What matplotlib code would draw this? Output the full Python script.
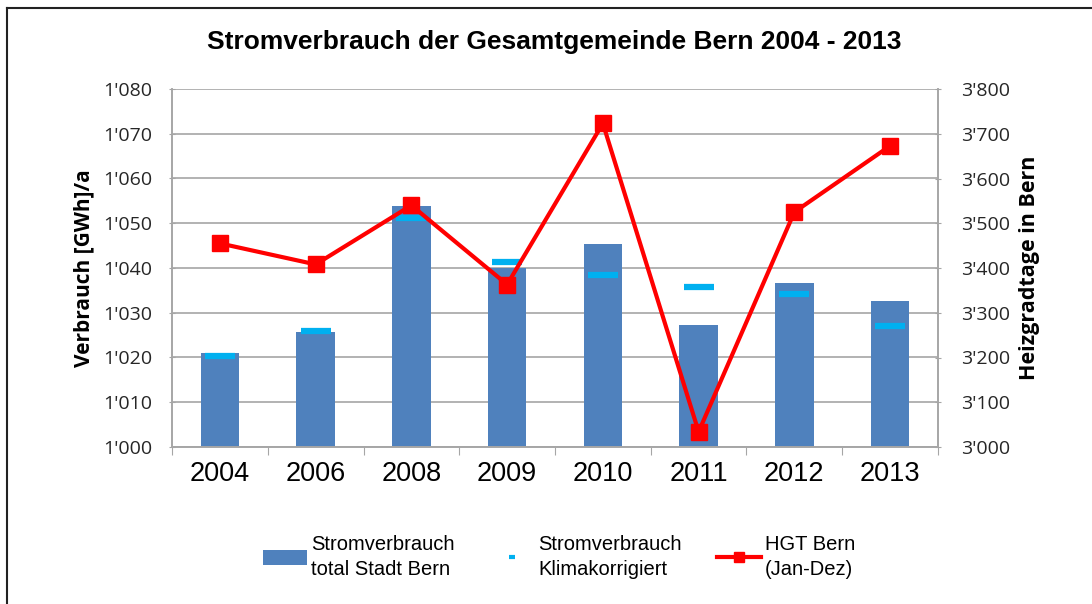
import matplotlib
matplotlib.use('Agg')
import matplotlib.pyplot as plt
from matplotlib.lines import Line2D
from matplotlib.patches import Patch
import numpy as np

# Daten
jahre = ['2004', '2006', '2008', '2009', '2010', '2011', '2012', '2013']
strom_total = [1021.0, 1025.6, 1053.9, 1040.0, 1045.3, 1027.3, 1036.7, 1032.6]
strom_klima = [1020.3, 1026.0, 1051.2, 1041.3, 1038.4, 1035.8, 1034.2, 1027.0]
hgt_bern = [3455, 3408, 3540, 3363, 3723, 3034, 3525, 3673]

links_ticks = [1000, 1010, 1020, 1030, 1040, 1050, 1060, 1070, 1080]
links_labels = ["1'000", "1'010", "1'020", "1'030", "1'040", "1'050", "1'060", "1'070", "1'080"]
rechts_ticks = [3000, 3100, 3200, 3300, 3400, 3500, 3600, 3700, 3800]
rechts_labels = ["3'000", "3'100", "3'200", "3'300", "3'400", "3'500", "3'600", "3'700", "3'800"]

blau = '#4F81BD'
hellblau = '#00B0F0'
rot = '#FF0000'
grau = '#A6A6A6'

fig = plt.figure(figsize=(10.92, 6.04), dpi=100)
ax = fig.add_axes([172 / 1092, 1 - 447 / 604, (938 - 172) / 1092, (447 - 89) / 604])
ax2 = ax.twinx()

x = np.arange(len(jahre))

# Balken und klimakorrigierte Werte
ax.bar(x, np.array(strom_total) - 1000, bottom=1000, width=0.4, color=blau, zorder=2)
ax.plot(x, strom_klima, linestyle='none', marker='_', markersize=21,
        markeredgewidth=4.5, color=hellblau, zorder=3)

# Heizgradtage
ax2.plot(x, hgt_bern, color=rot, lw=3, marker='s', markersize=12, zorder=4)

ax.set_xlim(-0.5, len(jahre) - 0.5)
ax.set_ylim(1000, 1080)
ax2.set_ylim(3000, 3800)

ax.set_yticks(links_ticks)
ax.set_yticklabels(links_labels, fontfamily='Open Sans', fontsize=14, color='#262626')
ax2.set_yticks(rechts_ticks)
ax2.set_yticklabels(rechts_labels, fontfamily='Open Sans', fontsize=14, color='#262626')

# Kategorie-Achse: Striche zwischen den Jahren
ax.set_xticks(np.arange(len(jahre) + 1) - 0.5)
ax.set_xticklabels([])
ax.set_xticks(x, minor=True)
ax.set_xticklabels(jahre, minor=True, fontfamily='Liberation Sans', fontsize=19.5)
ax.tick_params(axis='x', which='major', length=6, color=grau, direction='out')
ax.tick_params(axis='x', which='minor', length=0, pad=10)
ax.tick_params(axis='y', length=5, color=grau, direction='inout', pad=12)
ax2.tick_params(axis='y', length=5, color=grau, direction='inout', pad=14)

ax.grid(axis='y', color=grau, lw=1.2, zorder=0)
ax.set_axisbelow(True)

for a in (ax, ax2):
    a.spines['top'].set_visible(False)
    for s in ('left', 'right', 'bottom'):
        a.spines[s].set_color(grau)
        a.spines[s].set_linewidth(1.2)

ax.set_ylabel('Verbrauch [GWh]/a', fontfamily='Open Sans', fontweight='bold', fontsize=15)
ax.yaxis.set_label_coords((94 - 172) / 766, 0.5)
ax2.set_ylabel('Heizgradtage in Bern', fontfamily='Open Sans', fontweight='bold', fontsize=15.5)
ax2.yaxis.set_label_coords((1019 - 172) / 766, 0.5)

fig.text(554 / 1092, 1 - 42 / 604, 'Stromverbrauch der Gesamtgemeinde Bern 2004 - 2013',
         ha='center', va='center', fontfamily='Liberation Sans', fontweight='bold', fontsize=19)

# Legende
handles = [
    Patch(facecolor=blau),
    Line2D([], [], linestyle='none', marker='_', markersize=5, markeredgewidth=3, color=hellblau),
    Line2D([], [], color=rot, lw=3, marker='s', markersize=7),
]
labels = ['Stromverbrauch\ntotal Stadt Bern', 'Stromverbrauch\nKlimakorrigiert', 'HGT Bern\n(Jan-Dez)']
leg = fig.legend(handles, labels, loc='center', bbox_to_anchor=(559 / 1092, 1 - 557 / 604), ncol=3,
                 frameon=False, prop={'family': 'Liberation Sans', 'size': 14.5},
                 handlelength=2.2, handletextpad=0.2, columnspacing=1.75)
for t in leg.get_texts():
    t.set_linespacing(1.4)

# Rahmen
fig.add_artist(Line2D([6.5 / 1092, 6.5 / 1092], [0, 1 - 8 / 604], color='#222222', lw=1.5))
fig.add_artist(Line2D([6.5 / 1092, 1], [1 - 8 / 604, 1 - 8 / 604], color='#222222', lw=1.5))

fig.savefig('out.png', dpi=100)
